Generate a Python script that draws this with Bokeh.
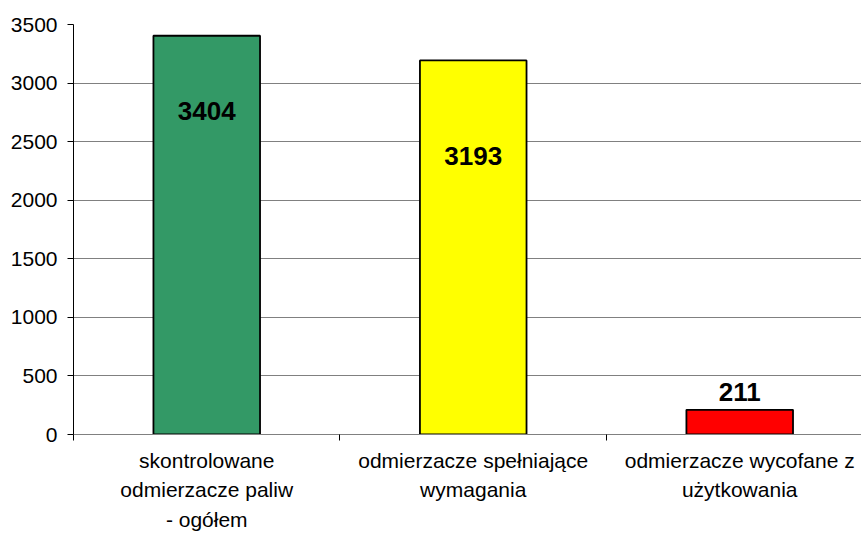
from bokeh.plotting import figure
from bokeh.models import FixedTicker, Range1d, LinearAxis
from bokeh.embed import file_html
from bokeh.resources import INLINE
from bokeh.core.properties import value

categories = ["skontrolowane\nodmierzacze paliw\n- ogółem",
              "odmierzacze spełniające\nwymagania",
              "odmierzacze wycofane z\nużytkowania"]
values = [3404, 3193, 211]
colors = ["#339966", "#FFFF00", "#FF0000"]
label_offsets = [75, 96, -18]
y_ticks = [0, 500, 1000, 1500, 2000, 2500, 3000, 3500]

FONT = "Liberation Sans"
xs = [i + 0.5 for i in range(len(categories))]

p = figure(width=861, height=534, output_backend="svg", toolbar_location=None,
           x_range=Range1d(0, 2.957), y_range=Range1d(0, 3500),
           min_border_left=73, min_border_top=24, min_border_right=0,
           min_border_bottom=100, x_axis_location=None, y_axis_location=None)
p.outline_line_color = None
p.background_fill_color = "white"
p.border_fill_color = "white"

# y axis
yax = LinearAxis(ticker=FixedTicker(ticks=y_ticks))
yax.axis_line_color = "black"
yax.major_tick_line_color = "black"
yax.major_tick_out = 6
yax.major_tick_in = 0
yax.minor_tick_line_color = None
yax.major_label_standoff = 10
yax.major_label_text_font = FONT
yax.major_label_text_font_size = "21px"
yax.major_label_text_color = "black"
p.add_layout(yax, "left")

# x axis
xax = LinearAxis(ticker=FixedTicker(ticks=xs, minor_ticks=[0, 1, 2, 3]))
xax.axis_line_color = "#808080"
xax.major_tick_line_color = None
xax.major_tick_out = 0
xax.major_tick_in = 0
xax.minor_tick_line_color = "black"
xax.minor_tick_out = 6
xax.minor_tick_in = 0
xax.major_label_overrides = {x: c for x, c in zip(xs, categories)}
xax.major_label_standoff = 8
xax.major_label_text_font = FONT
xax.major_label_text_font_size = "21px"
xax.major_label_text_color = "black"
xax.major_label_text_line_height = 1.3
p.add_layout(xax, "below")

p.xgrid.visible = False
p.ygrid.ticker = FixedTicker(ticks=y_ticks)
p.ygrid.grid_line_color = "#808080"
p.ygrid.grid_line_width = 1

p.vbar(x=xs, top=values, width=0.4, bottom=0, fill_color=colors,
       line_color="black", line_width=1.8)

p.text(x=xs, y=values, text=[str(v) for v in values], y_offset=label_offsets,
       text_align="center", text_baseline="middle", text_font=value(FONT),
       text_font_size="26px", text_font_style="bold", text_color="black")

open("out.html", "w").write(file_html(p, INLINE))
